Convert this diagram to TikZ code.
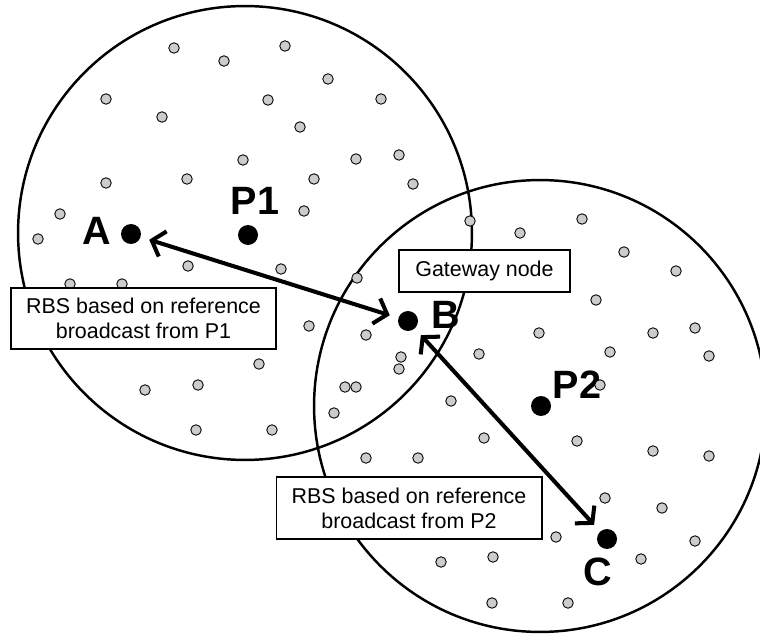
\documentclass[tikz,border=0pt]{standalone}
\usepackage{fontspec}
\setmainfont{Liberation Sans}
\usepackage{tikz}
\usetikzlibrary{arrows.meta,positioning}
\tikzset{
    x=0.02cm, y=-0.02cm,
    coverage/.style ={draw, line width=1.4pt},
    sensor/.style ={circle, draw, fill=gray!40, inner sep=0pt, minimum size=0.21cm, line width=0.5pt},
    beacon/.style ={circle, fill, inner sep=0pt, minimum size=0.4cm},
    lbl/.style = {inner sep=0pt, font=\bfseries\fontsize{22.5}{22.5}\selectfont},
    note/.style = {rectangle, draw, fill=white, align=center, inner sep=0pt, line width=0.6pt,
                   font=\fontsize{12.2}{14.2}\selectfont},
    link/.style = {{Straight Barb[length=6.5pt,width=15pt]}-{Straight Barb[length=6.5pt,width=15pt]},
                   line width=2.3pt, shorten <=5pt, shorten >=5pt}
}
\begin{document}
\begin{tikzpicture}
    \useasboundingbox (0,0) rectangle (760,634);
    % radio ranges of P1 and P2
    \draw[coverage] (245,233) circle[radius=4.54cm];
    \draw[coverage] (540,406) circle[radius=4.52cm];

    \node[lbl] (lA) at (97,231) {A};
    \node[lbl] (lP1) at (255,201) {P1};
    \node[lbl] (lB) at (446,315) {B};
    \node[lbl] (lP2) at (577,385) {P2};
    \node[lbl] (lC) at (598,572) {C};

    % ordinary nodes
    \foreach \x/\y [count=\i] in {174/48, 224/61, 285/46, 328/79, 106/99, 268/100, 381/99, 162/117,
        300/127, 243/160, 356/159, 399/155, 187/179, 314/179, 413/184, 106/183, 304/211, 60/214,
        38/239, 470/221, 188/266, 281/269, 357/278, 70/284, 122/284, 309/326, 366/335, 259/364,
        145/390, 198/385, 345/387, 356/387, 334/413, 196/430, 272/430, 366/458, 401/357, 399/369}
        \node[sensor] (s\i) at (\x,\y) {};
    \foreach \x/\y [count=\i] in {520/233, 582/219, 624/252, 676/271, 596/300, 539/333, 653/333,
        695/328, 610/352, 709/356, 479/354, 600/385, 451/401, 484/438, 577/441, 653/451, 709/456,
        418/458, 605/498, 662/508, 556/537, 695/541, 641/559, 493/557, 441/562, 492/603, 568/603}
        \node[sensor] (t\i) at (\x,\y) {};

    \node[note, minimum width=3.42cm, minimum height=0.84cm] (gw) at (484.5,271) {Gateway node};
    \node[note, minimum width=5.3cm, minimum height=1.22cm] (rbs1) at (143.5,318.5)
        {RBS based on reference\\broadcast from P1};
    \node[note, minimum width=5.32cm, minimum height=1.24cm] (rbs2) at (409,508)
        {RBS based on reference\\broadcast from P2};

    \node[beacon] (A) at (131,234) {};
    \node[beacon] (P1) at (248,235) {};
    \node[beacon] (B) at (408,321) {};
    \node[beacon] (P2) at (541,406) {};
    \node[beacon] (C) at (607,539) {};

    \path[link] (A) edge (B);
    \path[link] (B) edge (C);
\end{tikzpicture}
\end{document}
